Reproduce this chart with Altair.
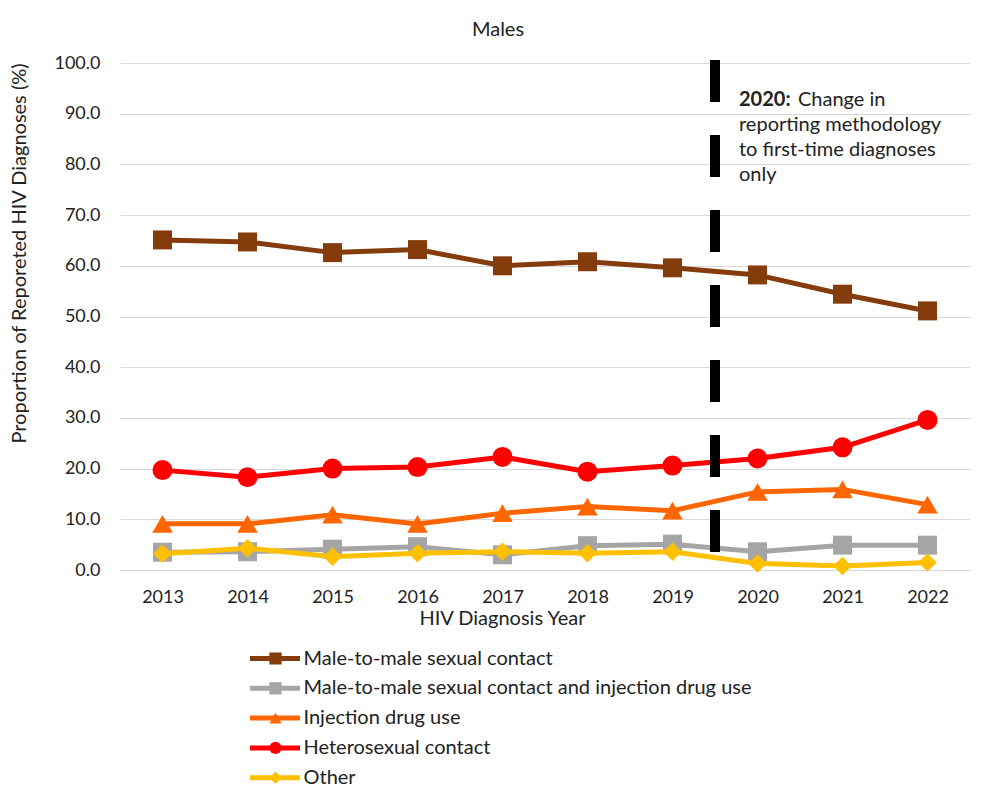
import altair as alt
import pandas as pd

FONT = "Lato"
TXT = "#222222"

years = list(range(2013, 2023))
series_names = [
    "Male-to-male sexual contact",
    "Male-to-male sexual contact and injection drug use",
    "Injection drug use",
    "Heterosexual contact",
    "Other",
]
msm = [65.1, 64.7, 62.6, 63.2, 60.0, 60.8, 59.6, 58.2, 54.4, 51.1]
msm_idu = [3.5, 3.6, 4.1, 4.6, 3.0, 4.8, 5.1, 3.6, 4.9, 4.9]
idu = [9.1, 9.1, 10.9, 9.1, 11.2, 12.5, 11.7, 15.4, 15.9, 12.9]
het = [19.7, 18.3, 20.0, 20.3, 22.3, 19.4, 20.6, 22.0, 24.2, 29.6]
other = [3.2, 4.3, 2.6, 3.3, 3.6, 3.3, 3.6, 1.3, 0.8, 1.5]
y_ticks = [0, 10, 20, 30, 40, 50, 60, 70, 80, 90, 100]

colors = ["#843C0C", "#A5A5A5", "#FF6600", "#FF0000", "#FFC000"]
shapes = ["square", "square", "triangle-up", "circle", "diamond"]
sizes = [360, 360, 420, 400, 340]
marker_names = [n + " " for n in series_names]

rows = []
for name, mname, vals in zip(series_names, marker_names, [msm, msm_idu, idu, het, other]):
    for yr, v in zip(years, vals):
        rows.append({"year": yr, "value": v, "group": name, "marker": mname})
df = pd.DataFrame(rows)

LEG_X, LEG_Y, ROW_PAD, CLIP_H = 127.5, 585.5, 9.8, 20

color = alt.Color(
    "group:N",
    scale=alt.Scale(domain=series_names, range=colors),
    legend=alt.Legend(
        title=None, orient="none", legendX=LEG_X, legendY=LEG_Y, clipHeight=CLIP_H,
        symbolType="stroke", symbolSize=2500, symbolStrokeWidth=5,
        labelFont=FONT, labelFontSize=20, labelColor=TXT,
        labelOffset=1, rowPadding=ROW_PAD, labelLimit=700, zindex=0,
    ),
)
marker_legend = alt.Legend(
    title=None, orient="none", legendX=LEG_X, legendY=LEG_Y, clipHeight=CLIP_H,
    symbolSize=150, symbolOffset=18, symbolStrokeWidth=0, symbolOpacity=1,
    labelFont=FONT, labelFontSize=20, labelColor="rgba(0,0,0,0)",
    labelOffset=22, rowPadding=ROW_PAD, labelLimit=700, zindex=1,
)
fill = alt.Fill("marker:N", scale=alt.Scale(domain=marker_names, range=colors),
                legend=marker_legend)
shape = alt.Shape("marker:N", scale=alt.Scale(domain=marker_names, range=shapes),
                  legend=marker_legend)

x = alt.X(
    "year:Q",
    scale=alt.Scale(domain=[2012.5, 2022.5], nice=False),
    axis=alt.Axis(
        values=years, format="d", grid=False, ticks=False, domain=False,
        labelFont=FONT, labelFontSize=18, labelColor=TXT, labelPadding=18,
        title="HIV Diagnosis Year", titleFont=FONT, titleFontSize=20,
        titleFontWeight="normal", titleColor=TXT,
        titleX=382, titleY=48, titleBaseline="middle",
    ),
)
y = alt.Y(
    "value:Q",
    scale=alt.Scale(domain=[0, 100], nice=False),
    axis=alt.Axis(
        values=y_ticks, format=".1f", ticks=False, domain=False,
        gridColor="#D9D9D9", gridWidth=1,
        labelFont=FONT, labelFontSize=18, labelColor=TXT, labelPadding=20,
        title="Proportion of Reporeted HIV Diagnoses (%)", titleFont=FONT,
        titleFontSize=20, titleFontWeight="normal", titleColor=TXT,
        titleX=-101, titleY=190, titleBaseline="middle",
    ),
)

base = alt.Chart(df)
layers = []
for name, sz in zip(series_names, sizes):
    sub = base.transform_filter(alt.datum.group == name)
    layers.append(sub.mark_line(strokeWidth=5).encode(x=x, y=y, color=color))
    layers.append(
        sub.mark_point(filled=True, size=sz, opacity=1, strokeWidth=0).encode(
            x=x, y=y, fill=fill, shape=shape
        )
    )

rule_df = pd.DataFrame({"year": [2019.5], "top": [100.6], "bottom": [3.0]})
rule = alt.Chart(rule_df).mark_rule(color="black", strokeWidth=10, strokeDash=[42, 33]).encode(
    x="year:Q", y="top:Q", y2="bottom:Q"
)

note_df = pd.DataFrame({"year": [2019.5], "value": [92.7]})
note_base = alt.Chart(note_df).encode(x="year:Q", y="value:Q")
note_bold = note_base.mark_text(
    text="2020:", align="left", baseline="middle", dx=24, font=FONT, fontSize=20,
    fontWeight="bold", color=TXT,
)
note_1 = note_base.mark_text(
    text="Change in", align="left", baseline="middle", dx=83, font=FONT, fontSize=20,
    color=TXT,
)
note_rest = note_base.mark_text(
    text=["reporting methodology", "to first-time diagnoses", "only"],
    align="left", baseline="middle", dx=24, dy=25, lineHeight=25,
    font=FONT, fontSize=20, color=TXT,
)

chart = alt.layer(*layers, rule, note_bold, note_1, note_rest).properties(
    width=850,
    height=507,
    autosize=alt.AutoSizeParams(type="none"),
    padding={"left": 112, "top": 55, "right": 18, "bottom": 218},
    title=alt.Title(
        "Males", font=FONT, fontSize=20, fontWeight="normal", color=TXT,
        frame="group", offset=14, dx=-47,
    ),
).configure_view(stroke=None)

chart.save("out.html", embed_options={"renderer": "svg", "actions": False})
